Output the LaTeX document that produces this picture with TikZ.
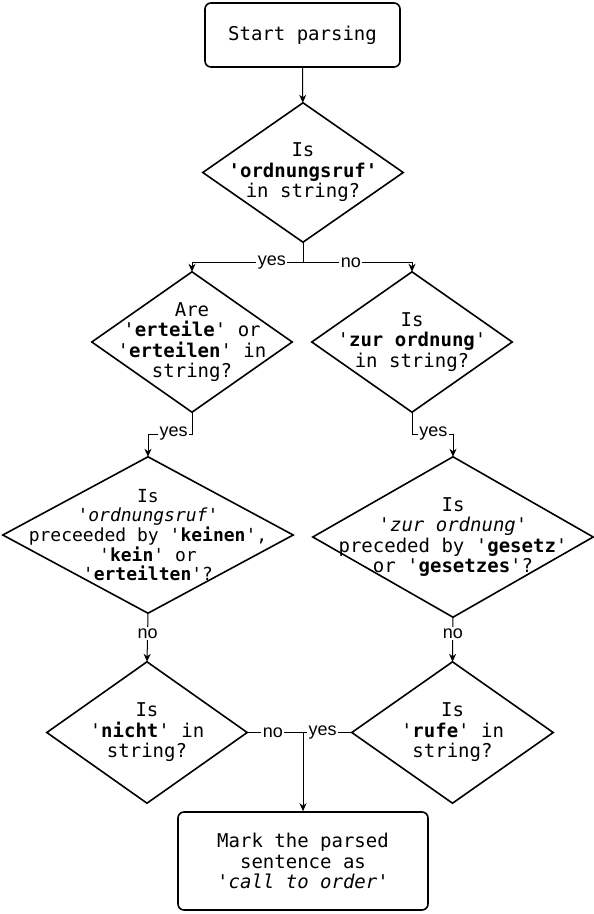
\documentclass[tikz,border=0pt]{standalone}
\usepackage{fontspec}
\setmonofont{DejaVu Sans Mono}
\newfontfamily\lblfont{Liberation Sans}
\usetikzlibrary{arrows.meta}

\begin{document}
\begin{tikzpicture}[x=1pt, y=-1pt,
  txt/.style={font=\ttfamily\fontsize{19}{20.5}\selectfont, align=center},
  st/.style={txt, draw, line width=1.6pt, rounded corners=6pt, inner sep=4pt},
  dia/.style 2 args={txt, inner sep=0pt, minimum width=#1, minimum height=#2},
  ln/.style={line width=1pt},
  arr/.style={ln, -{Stealth[length=8pt, width=7pt, inset=2.5pt]}},
  yn/.style={font=\lblfont\fontsize{18}{20}\selectfont, fill=white, inner sep=1.5pt}]
\useasboundingbox (0,0) rectangle (594,914);

% ---- start and first question ---------------------------------------------
\node[st, minimum width=195pt, minimum height=64pt] (start) at (302.5,35) {Start parsing};
\node[dia={200pt}{139pt}] (isord) at (303,172.5) {Is\\ \textbf{'ordnungsruf'}\\ in string?};
\coordinate (split1) at (303,262.5);

% ---- ordnungsruf branch (left) --------------------------------------------
\node[dia={200pt}{140pt}] (areert) at (192,342) {Are\\ '\textbf{erteile}' or\\ '\textbf{erteilen}' in\\ string?};
\node[dia={290pt}{156pt}, font=\ttfamily\fontsize{18}{19.7}\selectfont] (kein) at (148,535)
  {Is\\ '\textit{ordnungsruf}'\\ preceeded by '\textbf{keinen}',\\ '\textbf{kein}' or\\ '\textbf{erteilten}'?};
\node[dia={200pt}{141pt}] (nicht) at (147,732.5) {Is\\ '\textbf{nicht}' in\\ string?};
\coordinate (split2) at (192,434);

% ---- zur ordnung branch (right) -------------------------------------------
\node[dia={200pt}{140pt}] (iszur) at (412,342) {Is\\ '\textbf{zur ordnung}'\\ in string?};
\node[dia={280pt}{160pt}] (gesetz) at (453,537)
  {Is\\ '\textit{zur ordnung}'\\ preceded by '\textbf{gesetz}'\\ or '\textbf{gesetzes}'?};
\node[dia={201pt}{141pt}] (rufe) at (452.5,732.5) {Is\\ '\textbf{rufe}' in\\ string?};
\coordinate (split3) at (412,434);

% ---- result ---------------------------------------------------------------
\coordinate (merge) at (303,732.5);
\node[st, minimum width=250pt, minimum height=98pt] (mark) at (303,861)
  {Mark the parsed\\ sentence as\\ \textit{'call to order'}};

\foreach \n in {isord,areert,iszur,kein,gesetz,nicht,rufe}
  \draw[line width=1.6pt] (\n.north) -- (\n.east) -- (\n.south) -- (\n.west) -- cycle;

% ---- connectors -----------------------------------------------------------
\draw[arr] (start) -- (isord);
\draw[ln] (isord.south) -- (split1);
\draw[arr] (split1) -| node[yn, pos=.14] {yes} (areert.north);
\draw[arr] (split1) -| node[yn, pos=.22] {no} (iszur.north);
\draw[arr] (areert.south) -- (split2) -| node[yn, pos=.21] {yes} (kein.north);
\draw[arr] (iszur.south) -- (split3) -| node[yn, pos=.26] {yes} (gesetz.north);
\draw[arr] (kein.south) -- node[yn, pos=.42] {no} (nicht.north);
\draw[arr] (gesetz.south) -- node[yn, pos=.36] {no} (rufe.north);
\draw[ln] (nicht.east) -- node[yn, pos=.46] {no} (merge);
\draw[ln] (rufe.west) -- node[yn, pos=.6] {yes} (merge);
\draw[arr] (merge) -- (mark);

\end{tikzpicture}
\end{document}
